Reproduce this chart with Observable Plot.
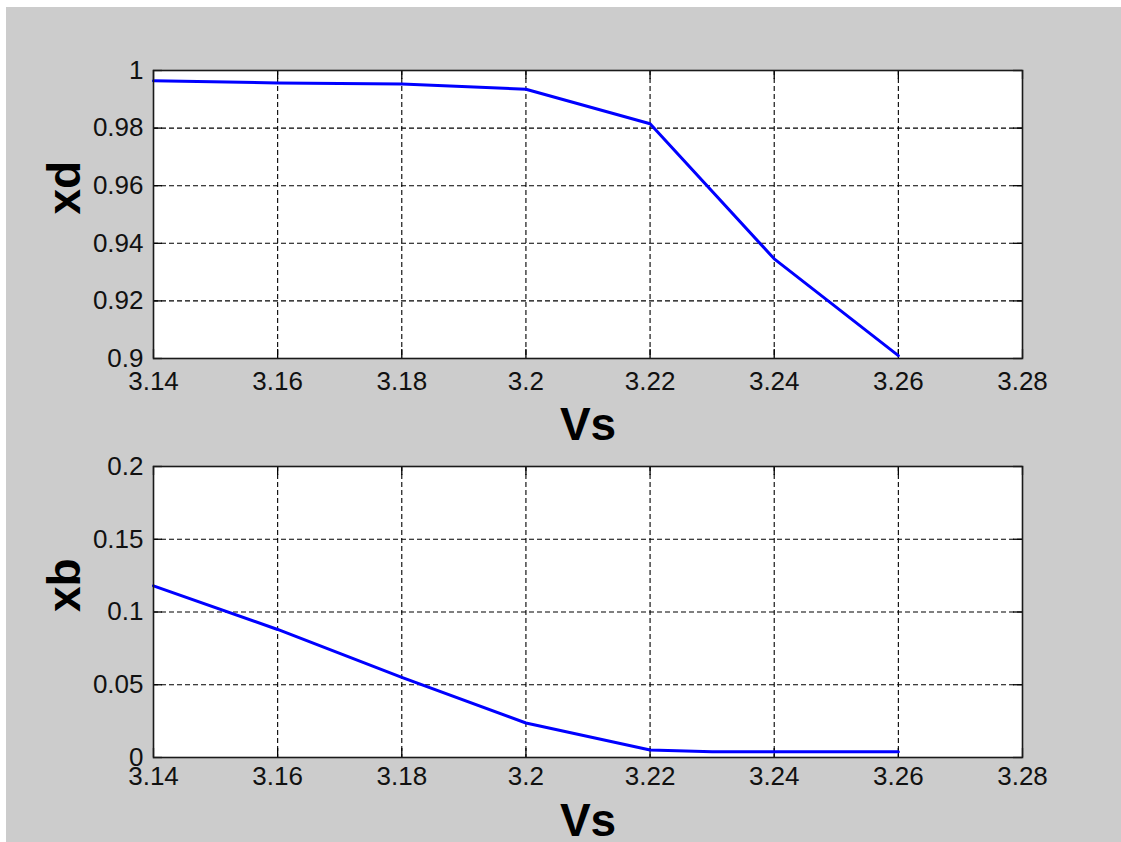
<!DOCTYPE html>
<html>
<head>
<meta charset="utf-8">
<script src="https://cdn.jsdelivr.net/npm/d3@7"></script>
<script src="https://cdn.jsdelivr.net/npm/@observablehq/plot@0.6"></script>
<style>
  html, body { margin: 0; padding: 0; background: #ffffff; }
  #fig { position: absolute; left: 6px; top: 7px; width: 1115px; height: 835px; background: #cccccc; overflow: hidden; }
  #top, #bottom { position: absolute; left: 0; }
  #top { top: 0; }
  #bottom { top: 440px; }
  svg { font-family: "Liberation Sans", Arial, sans-serif; }
</style>
</head>
<body>
<div id="fig"><div id="top"></div><div id="bottom"></div></div>
<script>
// ---- data ----
const vsTop = [3.14, 3.16, 3.18, 3.20, 3.22, 3.24, 3.26];
const xdValues = [0.9964, 0.9957, 0.9953, 0.9935, 0.9815, 0.9346, 0.9010];

const vsBottom = [3.14, 3.16, 3.18, 3.20, 3.22, 3.23, 3.24, 3.26];
const xbValues = [0.118, 0.088, 0.055, 0.0237, 0.0052, 0.0040, 0.0039, 0.0039];

const xTicks = [3.14, 3.16, 3.18, 3.20, 3.22, 3.24, 3.26, 3.28];
const xTickLabels = ["3.14", "3.16", "3.18", "3.2", "3.22", "3.24", "3.26", "3.28"];
const xdTicks = [0.90, 0.92, 0.94, 0.96, 0.98, 1.00];
const xdTickLabels = ["0.9", "0.92", "0.94", "0.96", "0.98", "1"];
const xbTicks = [0, 0.05, 0.10, 0.15, 0.20];
const xbTickLabels = ["0", "0.05", "0.1", "0.15", "0.2"];

const xLabel = "Vs";
const topYLabel = "xd";
const bottomYLabel = "xb";

// ---- drawing ----
const W = 1115;
const FONT = "\"Liberation Sans\", Arial, sans-serif";
const BLUE = "#0000ff";

function subplot({xs, ys, yDomain, yTicks, yTickLabels, yLabel, height, mt, mb, xPad, labelDy}) {
  const ml = 147, mr = 99;
  const plotH = height - mt - mb;
  const plotW = W - ml - mr;
  const tickLen = 9;
  const data = xs.map((x, i) => ({x, y: ys[i]}));
  const xInner = xTicks.slice(1, -1);
  const yInner = yTicks.slice(1, -1);
  const fmt = (ticks, labels) => d => labels[ticks.findIndex(t => Math.abs(t - d) < 1e-9)];
  return Plot.plot({
    width: W,
    height,
    marginLeft: ml, marginRight: mr, marginTop: mt, marginBottom: mb,
    style: {background: "transparent", fontFamily: FONT, color: "black", overflow: "visible"},
    x: {domain: [xTicks[0], xTicks[xTicks.length - 1]]},
    y: {domain: yDomain},
    marks: [
      Plot.frame({fill: "white", stroke: null}),
      Plot.ruleX(xInner, {stroke: "black", strokeWidth: 1.1, strokeDasharray: "5,3"}),
      Plot.ruleY(yInner, {stroke: "black", strokeWidth: 1.1, strokeDasharray: "5,3"}),
      Plot.tickX(xTicks, {x: d => d, stroke: "black", strokeWidth: 1.3, insetTop: plotH - tickLen}),
      Plot.tickX(xTicks, {x: d => d, stroke: "black", strokeWidth: 1.3, insetBottom: plotH - tickLen}),
      Plot.tickY(yTicks, {y: d => d, stroke: "black", strokeWidth: 1.3, insetRight: plotW - tickLen}),
      Plot.tickY(yTicks, {y: d => d, stroke: "black", strokeWidth: 1.3, insetLeft: plotW - tickLen}),
      Plot.line(data, {x: "x", y: "y", stroke: BLUE, strokeWidth: 3}),
      Plot.frame({stroke: "#1a1a1a", strokeWidth: 1.6}),
      Plot.axisX(xTicks, {anchor: "bottom", tickSize: 0, tickPadding: xPad, fontSize: 26, fill: "#111", label: null, tickFormat: fmt(xTicks, xTickLabels)}),
      Plot.axisY(yTicks, {anchor: "left", tickSize: 0, tickPadding: 10, fontSize: 26, fill: "#111", label: null, tickFormat: fmt(yTicks, yTickLabels)}),
      Plot.text([xLabel], {frameAnchor: "bottom", text: d => d, dy: labelDy, lineAnchor: "middle", fontSize: 46, fontWeight: "bold", fill: "black"}),
      Plot.text([yLabel], {frameAnchor: "left", text: d => d, dx: -88, rotate: -90, lineAnchor: "middle", fontSize: 46, fontWeight: "bold", fill: "black"})
    ]
  });
}

document.getElementById("top").appendChild(subplot({
  xs: vsTop, ys: xdValues, yDomain: [0.9, 1], yTicks: xdTicks, yTickLabels: xdTickLabels,
  yLabel: topYLabel, height: 440, mt: 63, mb: 89, xPad: 13, labelDy: 67
}));
document.getElementById("bottom").appendChild(subplot({
  xs: vsBottom, ys: xbValues, yDomain: [0, 0.2], yTicks: xbTicks, yTickLabels: xbTickLabels,
  yLabel: bottomYLabel, height: 395, mt: 19, mb: 85, xPad: 9, labelDy: 64
}));
</script>
</body>
</html>
